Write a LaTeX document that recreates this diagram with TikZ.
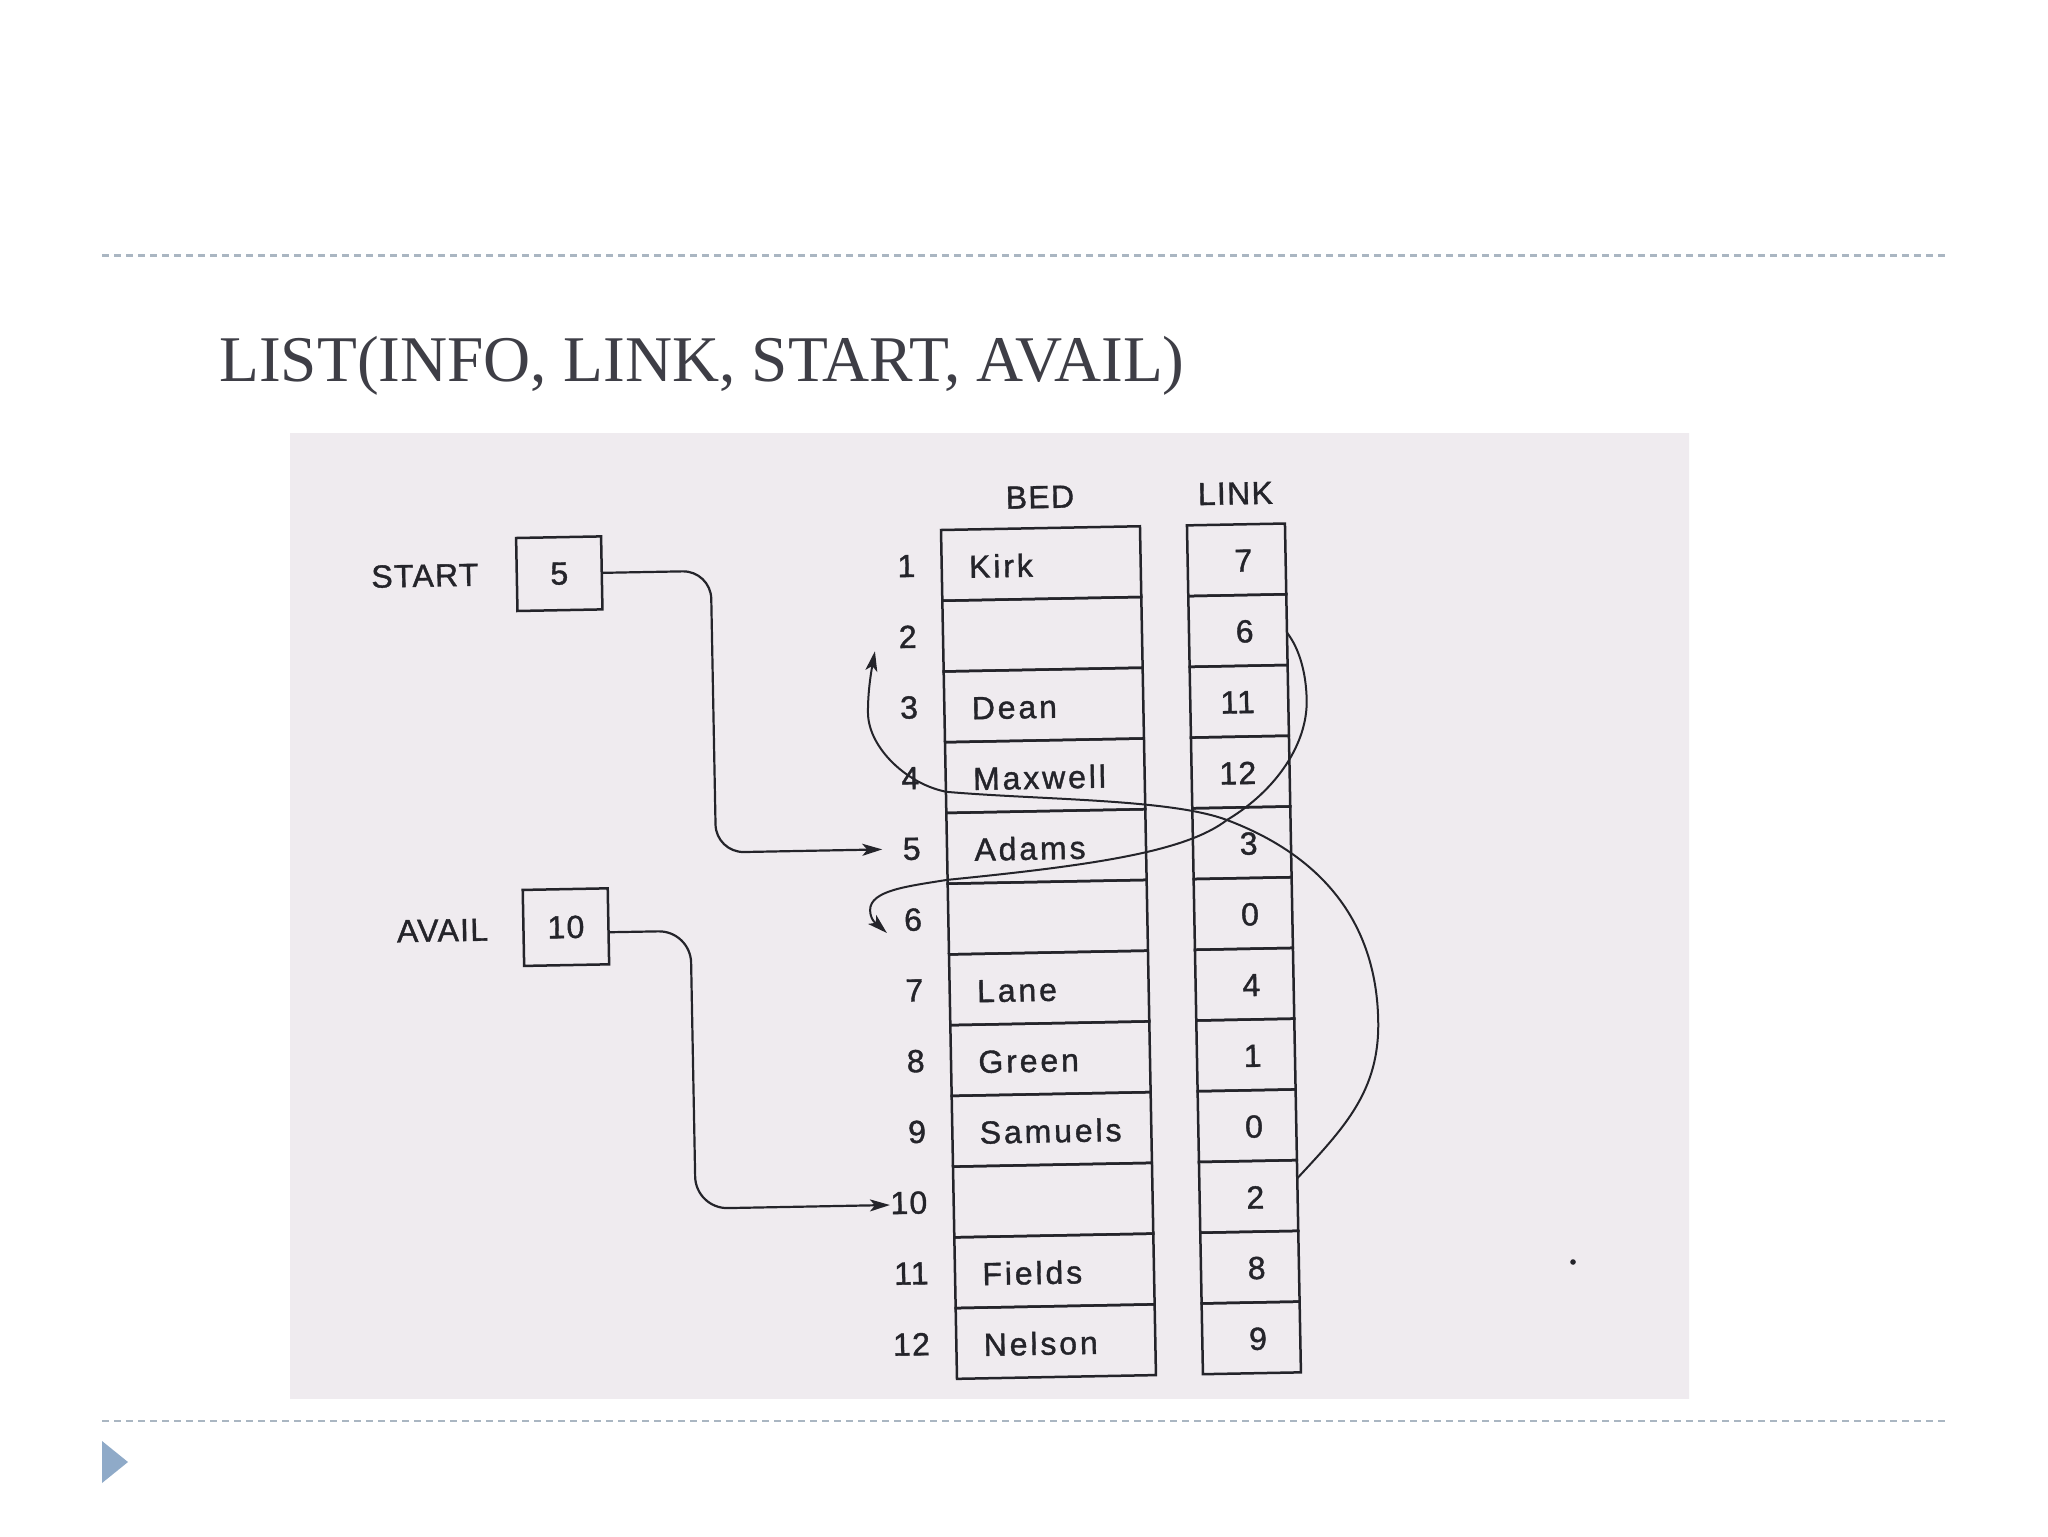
\documentclass[tikz,border=0pt]{standalone}
\usepackage{fontspec}
\setmainfont{Liberation Serif}
\newfontfamily\scanfont[LetterSpace=4,FakeBold=1.2]{Liberation Sans}
\newfontfamily\namefont[LetterSpace=9,FakeBold=1.2]{Liberation Sans}
\usetikzlibrary{arrows.meta,calc}
\definecolor{ink}{RGB}{36,36,42}
\definecolor{titlecol}{RGB}{62,62,70}
\definecolor{dashcol}{RGB}{170,182,194}
\definecolor{bulletcol}{RGB}{143,170,200}
\definecolor{scanbg}{RGB}{239,235,239}
\definecolor{scanleft}{RGB}{226,222,228}
\pgfdeclarehorizontalshading{scanshade}{100bp}{color(0bp)=(scanleft); color(9bp)=(scanbg); color(100bp)=(scanbg)}
\tikzset{
  bedcell/.style={draw=ink, line width=1.25pt, minimum width=99.5pt, minimum height=35.375pt, inner sep=0pt, outer sep=0pt},
  linkcell/.style={draw=ink, line width=1.25pt, minimum width=49pt, minimum height=35.375pt, inner sep=0pt, outer sep=0pt},
  scantxt/.style={font=\scanfont\fontsize{16}{19}\selectfont, text=ink, inner sep=0pt},
  nametxt/.style={font=\namefont\fontsize{16}{19}\selectfont, text=ink, inner sep=0pt},
  ptrbox/.style={draw=ink, line width=1.25pt, minimum width=42.5pt, minimum height=36.5pt, inner sep=0pt, font=\scanfont\fontsize{16}{19}\selectfont, text=ink},
  conn/.style={draw=ink, line width=1.1pt, -{Stealth[length=10pt,width=6pt,inset=2.5pt]}},
  curv/.style={draw=ink, line width=1pt, -{Stealth[length=10pt,width=6pt,inset=2.5pt]}},
  dashline/.style={draw=dashcol, line width=1.4pt, dash pattern=on 3.6pt off 2.4pt},
}
\begin{document}
\begin{tikzpicture}[x=0.5pt,y=-0.5pt]
\useasboundingbox (0,0) rectangle (2048,1536);
\fill[white] (0,0) rectangle (2048,1536);
% slide decorations
\draw[dashline] (102,255.5) -- (1945,255.5);
\draw[dashline] (102,1421) -- (1945,1421);
\fill[bulletcol] (102,1441) -- (128,1462) -- (102,1483) -- cycle;
\node[anchor=base west, inner sep=0pt, text=titlecol, font=\fontsize{32.6}{39}\selectfont] (title) at (219,381) {LIST(INFO, LINK, START, AVAIL)};
% scanned page
\shade[shading=scanshade] (290,433) rectangle (1689,1398);
\fill[ink] (1573,1262) circle[radius=1.4pt];
\begin{scope}[rotate around={1.08:(941,530)}, transform shape]
  \foreach \i/\nm/\lk in {1/Kirk/7, 2//6, 3/Dean/11, 4/Maxwell/12, 5/Adams/3, 6//0, 7/Lane/4, 8/Green/1, 9/Samuels/0, 10//2, 11/Fields/8, 12/Nelson/9}{
    \pgfmathsetmacro\yc{530+(\i-0.5)*70.75}
    \node[bedcell] (b\i) at (1040.5,\yc) {};
    \node[linkcell] (l\i) at (1236,\yc) {};
    \node[scantxt, anchor=east] (n\i) at (915,\yc) {\i};
    \node[nametxt, anchor=base west] (t\i) at (968,\yc+13) {\nm};
    \node[scantxt, anchor=east] (v\i) at (1252,\yc+1) {\lk};
  }
  \node[scantxt, anchor=base] (hbed) at (1040.5,510) {BED};
  \node[scantxt, anchor=base] (hlink) at (1236,510) {LINK};
  % pointer boxes
  \node[ptrbox] (sbox) at (558.5,566.5) {5};
  \node[scantxt, anchor=east] (slbl) at (478,566) {START};
  \node[ptrbox, minimum height=38pt] (abox) at (558.5,920) {10};
  \node[scantxt, anchor=east] (albl) at (481,921) {AVAIL};
  \coordinate (tip5) at ($(n5.west)+(-20,0)$);
  \coordinate (tip10) at ($(n10.west)+(0,2)$);
  \draw[conn, rounded corners=14pt] (sbox.east) -- (710,566.5) |- (tip5);
  \draw[conn, rounded corners=16pt] ($(abox.east)+(0,6)$) -- (683,926) |- (tip10);
  % link curves
  \coordinate (aR) at (1303.5,707);
  \coordinate (xX) at (1221.5,825.4);
  \coordinate (aL) at (940.4,880);
  \coordinate (aW) at (863,909);
  \coordinate (aT) at (879.4,932);
  \draw[curv] ($(l2.east)+(0,3)$) .. controls (1297,655) and (1303.5,680) .. (aR)
      .. controls (1303.5,750) and (1272,796.4) .. (xX)
      .. controls (1180,856) and (1089,868) .. (aL)
      .. controls (900.8,885.6) and (863,889) .. (aW)
      .. controls (863,920) and (871,924) .. (aT);
  \coordinate (bR) at (1369,1029);
  \coordinate (bL) at (942,792);
  \coordinate (bW) at (864.6,712);
  \coordinate (bT) at (872.7,650);
  \draw[curv] ($(l10.east)+(0,-17)$) .. controls (1333.5,1134.6) and (1369,1099) .. (bR)
      .. controls (1369,929) and (1314.5,862.4) .. (xX)
      .. controls (1165.7,803.2) and (1039,802) .. (bL)
      .. controls (903,784) and (864.6,747) .. (bW)
      .. controls (864.6,690) and (869,668) .. (bT);
\end{scope}
\end{tikzpicture}
\end{document}
